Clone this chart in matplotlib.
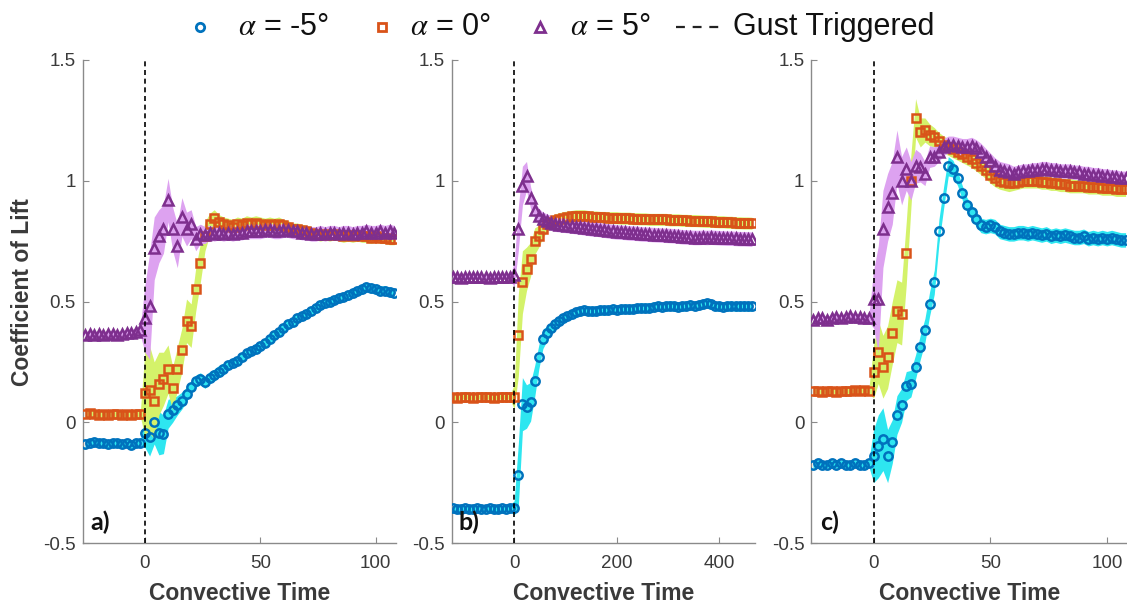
import numpy as np
import matplotlib
matplotlib.use("Agg")
import matplotlib.pyplot as plt
from matplotlib.lines import Line2D
from matplotlib.ticker import FixedLocator, FuncFormatter

plt.rcParams["font.family"] = ["Liberation Sans", "DejaVu Sans"]
plt.rcParams["mathtext.fontset"] = "stix"
plt.rcParams["axes.unicode_minus"] = False

# ---------------- time grids (convective time) ----------------
TIME_AC = np.arange(-26, 109, 2)      # panels a) and c)
TIME_B = np.arange(-120, 465, 8)      # panel b)

# ---------------- panel a) ----------------
cl_a_m5 = ([-0.09, -0.085, -0.08, -0.085, -0.085, -0.09, -0.085, -0.085, -0.09, -0.085, -0.095, -0.085, -0.085]
           + [-0.045, -0.06, 0.0, -0.045, -0.05, 0.035, 0.05, 0.07, 0.09, 0.115,
              0.145, 0.17, 0.18, 0.165, 0.185, 0.195, 0.21, 0.22, 0.235, 0.245,
              0.255, 0.27, 0.285, 0.295, 0.305, 0.315, 0.33, 0.345, 0.36, 0.375,
              0.39, 0.405, 0.415, 0.43, 0.44, 0.45, 0.46, 0.475, 0.485, 0.495,
              0.5, 0.505, 0.515, 0.52, 0.525, 0.535, 0.545, 0.55, 0.56, 0.555,
              0.55, 0.545, 0.545, 0.54, 0.535])
err_a_m5 = ([0.015, 0.015, 0.015, 0.015, 0.015, 0.015, 0.015, 0.015, 0.015, 0.015, 0.015, 0.015, 0.015]
            + [0.06, 0.08, 0.09, 0.09, 0.08, 0.06, 0.05, 0.04, 0.035, 0.03,
               0.025, 0.025, 0.025, 0.025, 0.025, 0.025, 0.025, 0.025, 0.02, 0.02,
               0.02, 0.02, 0.02, 0.02, 0.02, 0.02, 0.02, 0.02, 0.02, 0.02,
               0.02, 0.02, 0.02, 0.02, 0.02, 0.02, 0.02, 0.02, 0.02, 0.02,
               0.02, 0.02, 0.02, 0.02, 0.02, 0.02, 0.02, 0.02, 0.02, 0.02,
               0.02, 0.02, 0.02, 0.02, 0.02])
cl_a_0 = ([0.035, 0.04, 0.035, 0.03, 0.035, 0.03, 0.035, 0.035, 0.03, 0.035, 0.03, 0.035, 0.035]
          + [0.12, 0.135, 0.09, 0.16, 0.18, 0.22, 0.14, 0.22, 0.30, 0.42,
             0.40, 0.55, 0.66, 0.77, 0.82, 0.845, 0.83, 0.82, 0.815, 0.81,
             0.82, 0.815, 0.825, 0.82, 0.825, 0.82, 0.815, 0.82, 0.815, 0.82,
             0.815, 0.81, 0.80, 0.80, 0.795, 0.79, 0.785, 0.78, 0.775, 0.78,
             0.775, 0.78, 0.775, 0.77, 0.775, 0.77, 0.775, 0.77, 0.77, 0.765,
             0.77, 0.765, 0.765, 0.76, 0.76])
err_a_0 = ([0.012, 0.012, 0.012, 0.012, 0.012, 0.012, 0.012, 0.012, 0.012, 0.012, 0.012, 0.012, 0.012]
           + [0.18, 0.18, 0.16, 0.13, 0.11, 0.10, 0.09, 0.09, 0.09, 0.09,
              0.09, 0.09, 0.08, 0.06, 0.045, 0.035, 0.03, 0.03, 0.03, 0.03,
              0.03, 0.03, 0.03, 0.03, 0.03, 0.03, 0.03, 0.03, 0.03, 0.03,
              0.025, 0.025, 0.025, 0.025, 0.025, 0.025, 0.025, 0.025, 0.025, 0.025,
              0.025, 0.025, 0.025, 0.025, 0.025, 0.025, 0.025, 0.025, 0.025, 0.025,
              0.025, 0.025, 0.025, 0.025, 0.025])
cl_a_p5 = ([0.36, 0.365, 0.36, 0.365, 0.36, 0.365, 0.365, 0.36, 0.365, 0.37, 0.37, 0.375, 0.38]
           + [0.43, 0.48, 0.72, 0.77, 0.80, 0.92, 0.80, 0.73, 0.85, 0.80,
              0.82, 0.76, 0.78, 0.775, 0.785, 0.78, 0.785, 0.78, 0.785, 0.78,
              0.785, 0.785, 0.79, 0.79, 0.79, 0.79, 0.795, 0.795, 0.79, 0.79,
              0.795, 0.795, 0.79, 0.79, 0.785, 0.785, 0.78, 0.78, 0.785, 0.78,
              0.785, 0.785, 0.78, 0.785, 0.785, 0.78, 0.785, 0.785, 0.79, 0.785,
              0.785, 0.79, 0.785, 0.79, 0.785])
err_a_p5 = ([0.015, 0.015, 0.015, 0.015, 0.015, 0.015, 0.015, 0.015, 0.015, 0.015, 0.015, 0.015, 0.02]
            + [0.14, 0.22, 0.13, 0.11, 0.10, 0.09, 0.09, 0.09, 0.08, 0.07,
               0.06, 0.05, 0.04, 0.035, 0.03, 0.03, 0.03, 0.03, 0.03, 0.03,
               0.03, 0.03, 0.03, 0.03, 0.03, 0.03, 0.03, 0.03, 0.03, 0.03,
               0.03, 0.03, 0.03, 0.03, 0.03, 0.03, 0.03, 0.03, 0.03, 0.03,
               0.03, 0.03, 0.03, 0.03, 0.03, 0.03, 0.03, 0.03, 0.03, 0.03,
               0.03, 0.03, 0.03, 0.03, 0.03])

# ---------------- panel b) ----------------
cl_b_m5 = ([-0.355, -0.36, -0.36, -0.355, -0.36, -0.36, -0.355, -0.36, -0.36, -0.355, -0.36, -0.36, -0.355, -0.36, -0.355]
           + [-0.355, -0.22, 0.075, 0.065, 0.085, 0.17, 0.27, 0.345, 0.368, 0.39,
              0.405, 0.418, 0.43, 0.44, 0.448, 0.455, 0.46, 0.463, 0.462, 0.46,
              0.462, 0.465, 0.463, 0.465, 0.468, 0.465, 0.468, 0.47, 0.468, 0.47,
              0.472, 0.475, 0.473, 0.475, 0.478, 0.48, 0.478, 0.48, 0.483, 0.48,
              0.478, 0.48, 0.483, 0.485, 0.483, 0.485, 0.49, 0.492, 0.488, 0.482,
              0.48, 0.478, 0.48, 0.482, 0.48, 0.48, 0.482, 0.48, 0.48])
err_b_m5 = ([0.012, 0.012, 0.012, 0.012, 0.012, 0.012, 0.012, 0.012, 0.012, 0.012, 0.012, 0.012, 0.012, 0.012, 0.012]
            + [0.03, 0.13, 0.11, 0.09, 0.08, 0.065, 0.05, 0.04, 0.03, 0.025,
               0.02, 0.02, 0.02, 0.02, 0.02, 0.02, 0.02, 0.02, 0.02, 0.02,
               0.02, 0.02, 0.02, 0.02, 0.02, 0.02, 0.02, 0.02, 0.02, 0.02,
               0.02, 0.02, 0.02, 0.02, 0.02, 0.02, 0.02, 0.02, 0.02, 0.02,
               0.02, 0.02, 0.02, 0.02, 0.02, 0.02, 0.02, 0.02, 0.02, 0.02,
               0.02, 0.02, 0.02, 0.02, 0.02, 0.02, 0.02, 0.02, 0.02])
cl_b_0 = ([0.105, 0.1, 0.105, 0.105, 0.105, 0.1, 0.105, 0.105, 0.105, 0.105, 0.1, 0.105, 0.105, 0.105, 0.105]
          + [0.105, 0.36, 0.58, 0.635, 0.675, 0.75, 0.77, 0.80, 0.82, 0.83,
             0.838, 0.843, 0.847, 0.85, 0.852, 0.855, 0.855, 0.855, 0.852, 0.85,
             0.85, 0.848, 0.848, 0.847, 0.847, 0.847, 0.845, 0.845, 0.845, 0.843,
             0.843, 0.842, 0.842, 0.84, 0.84, 0.84, 0.84, 0.84, 0.838, 0.838,
             0.838, 0.836, 0.836, 0.835, 0.835, 0.834, 0.833, 0.832, 0.832, 0.831,
             0.83, 0.83, 0.828, 0.828, 0.826, 0.826, 0.825, 0.825, 0.824])
err_b_0 = ([0.01, 0.01, 0.01, 0.01, 0.01, 0.01, 0.01, 0.01, 0.01, 0.01, 0.01, 0.01, 0.01, 0.01, 0.01]
           + [0.05, 0.17, 0.13, 0.09, 0.07, 0.055, 0.045, 0.035, 0.03, 0.025,
              0.025, 0.025, 0.025, 0.025, 0.025, 0.025, 0.025, 0.025, 0.025, 0.025,
              0.025, 0.025, 0.025, 0.025, 0.025, 0.025, 0.025, 0.025, 0.025, 0.025,
              0.025, 0.025, 0.025, 0.025, 0.025, 0.025, 0.025, 0.025, 0.025, 0.025,
              0.025, 0.025, 0.025, 0.025, 0.025, 0.025, 0.025, 0.025, 0.025, 0.025,
              0.025, 0.025, 0.025, 0.025, 0.025, 0.025, 0.025, 0.025, 0.025])
cl_b_p5 = ([0.6, 0.6, 0.598, 0.6, 0.6, 0.602, 0.6, 0.6, 0.6, 0.598, 0.6, 0.6, 0.602, 0.6, 0.6]
           + [0.61, 0.80, 0.98, 1.02, 0.93, 0.88, 0.855, 0.84, 0.833, 0.825,
              0.82, 0.818, 0.816, 0.814, 0.812, 0.81, 0.808, 0.805, 0.803, 0.80,
              0.80, 0.797, 0.795, 0.792, 0.79, 0.788, 0.787, 0.786, 0.784, 0.783,
              0.782, 0.78, 0.779, 0.778, 0.777, 0.776, 0.775, 0.774, 0.773, 0.772,
              0.77, 0.768, 0.767, 0.766, 0.765, 0.765, 0.766, 0.765, 0.766, 0.765,
              0.764, 0.763, 0.762, 0.762, 0.761, 0.76, 0.76, 0.759, 0.758])
err_b_p5 = ([0.01, 0.01, 0.01, 0.01, 0.01, 0.01, 0.01, 0.01, 0.01, 0.01, 0.01, 0.01, 0.01, 0.01, 0.01]
            + [0.05, 0.09, 0.08, 0.06, 0.045, 0.035, 0.03, 0.03, 0.03, 0.03,
               0.03, 0.03, 0.03, 0.03, 0.03, 0.03, 0.03, 0.03, 0.03, 0.03,
               0.03, 0.03, 0.03, 0.03, 0.03, 0.03, 0.03, 0.03, 0.03, 0.03,
               0.03, 0.03, 0.03, 0.03, 0.03, 0.03, 0.03, 0.03, 0.03, 0.03,
               0.03, 0.03, 0.03, 0.03, 0.03, 0.03, 0.03, 0.03, 0.03, 0.03,
               0.03, 0.03, 0.03, 0.03, 0.03, 0.03, 0.03, 0.03, 0.03])

# ---------------- panel c) ----------------
cl_c_m5 = ([-0.175, -0.17, -0.175, -0.175, -0.17, -0.175, -0.17, -0.175, -0.175, -0.17, -0.175, -0.175, -0.17]
           + [-0.14, -0.10, -0.07, -0.14, -0.08, 0.03, 0.07, 0.15, 0.16, 0.23,
              0.31, 0.38, 0.49, 0.58, 0.79, 0.93, 1.06, 1.05, 1.01, 0.95,
              0.90, 0.87, 0.84, 0.815, 0.81, 0.815, 0.81, 0.79, 0.785, 0.78,
              0.78, 0.785, 0.785, 0.78, 0.785, 0.78, 0.775, 0.78, 0.77, 0.775,
              0.77, 0.775, 0.77, 0.765, 0.765, 0.77, 0.76, 0.765, 0.76, 0.765,
              0.76, 0.765, 0.76, 0.755, 0.755])
err_c_m5 = ([0.015, 0.015, 0.015, 0.015, 0.015, 0.015, 0.015, 0.015, 0.015, 0.015, 0.015, 0.015, 0.015]
            + [0.11, 0.13, 0.13, 0.11, 0.09, 0.08, 0.07, 0.06, 0.055, 0.05,
               0.05, 0.05, 0.05, 0.05, 0.05, 0.045, 0.04, 0.035, 0.03, 0.03,
               0.03, 0.03, 0.03, 0.03, 0.03, 0.03, 0.03, 0.03, 0.03, 0.03,
               0.03, 0.03, 0.03, 0.03, 0.03, 0.03, 0.03, 0.03, 0.03, 0.03,
               0.03, 0.03, 0.03, 0.03, 0.03, 0.03, 0.03, 0.03, 0.03, 0.03,
               0.03, 0.03, 0.03, 0.03, 0.03])
cl_c_0 = ([0.13, 0.13, 0.125, 0.13, 0.13, 0.125, 0.13, 0.13, 0.13, 0.135, 0.13, 0.135, 0.13]
          + [0.21, 0.29, 0.23, 0.27, 0.37, 0.46, 0.45, 0.70, 1.00, 1.26,
             1.20, 1.21, 1.19, 1.18, 1.165, 1.15, 1.14, 1.13, 1.12, 1.11,
             1.10, 1.09, 1.075, 1.06, 1.045, 1.025, 1.01, 1.00, 0.995, 0.99,
             0.99, 0.995, 1.00, 1.00, 1.00, 1.00, 0.995, 0.995, 0.99, 0.99,
             0.985, 0.985, 0.98, 0.98, 0.98, 0.98, 0.975, 0.975, 0.975, 0.97,
             0.97, 0.97, 0.965, 0.965, 0.965])
err_c_0 = ([0.012, 0.012, 0.012, 0.012, 0.012, 0.012, 0.012, 0.012, 0.012, 0.012, 0.012, 0.012, 0.012]
           + [0.11, 0.13, 0.13, 0.13, 0.13, 0.13, 0.13, 0.13, 0.11, 0.08,
              0.06, 0.05, 0.045, 0.04, 0.035, 0.035, 0.035, 0.035, 0.035, 0.035,
              0.035, 0.035, 0.035, 0.035, 0.035, 0.035, 0.035, 0.035, 0.035, 0.035,
              0.03, 0.03, 0.03, 0.03, 0.03, 0.03, 0.03, 0.03, 0.03, 0.03,
              0.03, 0.03, 0.03, 0.03, 0.03, 0.03, 0.03, 0.03, 0.03, 0.03,
              0.03, 0.03, 0.03, 0.03, 0.03])
cl_c_p5 = ([0.425, 0.43, 0.43, 0.425, 0.43, 0.435, 0.43, 0.435, 0.44, 0.435, 0.435, 0.43, 0.43]
           + [0.51, 0.51, 0.80, 0.89, 0.95, 1.10, 1.00, 1.05, 1.00, 1.06,
              1.055, 1.03, 1.10, 1.10, 1.12, 1.14, 1.15, 1.15, 1.145, 1.14,
              1.14, 1.145, 1.135, 1.12, 1.10, 1.08, 1.06, 1.045, 1.04, 1.035,
              1.03, 1.035, 1.04, 1.04, 1.045, 1.045, 1.05, 1.05, 1.045, 1.045,
              1.04, 1.04, 1.04, 1.035, 1.035, 1.03, 1.03, 1.025, 1.025, 1.02,
              1.02, 1.015, 1.015, 1.01, 1.01])
err_c_p5 = ([0.015, 0.015, 0.015, 0.015, 0.015, 0.015, 0.015, 0.015, 0.015, 0.015, 0.015, 0.015, 0.015]
            + [0.12, 0.22, 0.16, 0.14, 0.13, 0.11, 0.10, 0.09, 0.08, 0.07,
               0.06, 0.05, 0.045, 0.04, 0.04, 0.035, 0.035, 0.035, 0.035, 0.035,
               0.035, 0.035, 0.035, 0.035, 0.035, 0.035, 0.035, 0.035, 0.035, 0.035,
               0.03, 0.03, 0.03, 0.03, 0.03, 0.03, 0.03, 0.03, 0.03, 0.03,
               0.03, 0.03, 0.03, 0.03, 0.03, 0.03, 0.03, 0.03, 0.03, 0.03,
               0.03, 0.03, 0.03, 0.03, 0.03])

SERIES_LABELS = [r"$\alpha$ = -5°", r"$\alpha$ = 0°", r"$\alpha$ = 5°"]
PANEL_LABELS = ["a)", "b)", "c)"]
X_TICKS = [[0, 50, 100], [0, 200, 400], [0, 50, 100]]
Y_TICKS = [-0.5, 0, 0.5, 1, 1.5]

# ---------------- styling ----------------
MARK_COLORS = ["#0072BD", "#D95319", "#7E2F8E"]
BAND_COLORS = ["#2EE6F0", "#D4F26A", "#DDA2F0"]
MARKERS = [dict(marker="o", ms=6.0), dict(marker="s", ms=5.2), dict(marker="^", ms=7.0)]
AXIS_GREY = "#8a8a8a"
TEXT_GREY = "#3a3a3a"

panels = [
    (TIME_AC, [(cl_a_m5, err_a_m5), (cl_a_0, err_a_0), (cl_a_p5, err_a_p5)], (-27, 108.8)),
    (TIME_B, [(cl_b_m5, err_b_m5), (cl_b_0, err_b_0), (cl_b_p5, err_b_p5)], (-122, 470)),
    (TIME_AC, [(cl_c_m5, err_c_m5), (cl_c_0, err_c_0), (cl_c_p5, err_c_p5)], (-26.7, 108.6)),
]
label_x = [-23.5, -108, -23]

W, H = 1127, 603
fig = plt.figure(figsize=(W / 100, H / 100), dpi=100)
ax_rects = [
    [82.7 / W, 60 / H, (396 - 82.7) / W, 483 / H],
    [451.7 / W, 60 / H, (755 - 451.7) / W, 483 / H],
    [811.3 / W, 60 / H, (1127 - 811.3) / W, 483 / H],
]

for k, (t, series, xlim) in enumerate(panels):
    ax = fig.add_axes(ax_rects[k])
    t = np.asarray(t, dtype=float)
    for (vals, errs), bc in zip(series, BAND_COLORS):
        v = np.asarray(vals)
        e = np.asarray(errs)
        ax.fill_between(t, v - e, v + e, color=bc, lw=0, zorder=1)
    for (vals, errs), mc, mk in zip(series, MARK_COLORS, MARKERS):
        ax.plot(t, vals, ls="none", mfc="none", mec=mc, mew=1.8, zorder=3, **mk)
    ax.axvline(0, color="k", ls=(0, (3, 2.2)), lw=1.2, zorder=4)
    ax.set_xlim(*xlim)
    ax.set_ylim(-0.5, 1.5)
    ax.xaxis.set_major_locator(FixedLocator(X_TICKS[k]))
    ax.yaxis.set_major_locator(FixedLocator(Y_TICKS))
    ax.yaxis.set_major_formatter(FuncFormatter(lambda v, p: f"{v:g}"))
    for s in ("top", "right"):
        ax.spines[s].set_visible(False)
    for s in ("left", "bottom"):
        ax.spines[s].set_color(AXIS_GREY)
        ax.spines[s].set_linewidth(1.0)
    ax.tick_params(direction="in", length=4, width=0.8, color=AXIS_GREY,
                   labelsize=13.5, labelcolor=TEXT_GREY)
    ax.tick_params(axis="x", pad=9)
    ax.tick_params(axis="y", pad=5)
    ax.set_xlabel("Convective Time", fontsize=16.5, fontweight="bold",
                  color=TEXT_GREY, labelpad=7)
    if k == 0:
        ax.set_ylabel("Coefficient of Lift", fontsize=16.5, fontweight="bold",
                      color=TEXT_GREY, labelpad=8)
        ax.yaxis.set_label_coords(-0.155, 0.52)
    ax.text(label_x[k], -0.445, PANEL_LABELS[k], fontsize=18, fontweight="bold",
            family=["Lato", "DejaVu Sans"], color="#111111", va="baseline", zorder=5)

# ---------------- legend row ----------------
ly = 1 - 27 / H
for xm, xt, mc, mk, lab in zip([200, 382, 540], [238, 410, 570], MARK_COLORS, MARKERS, SERIES_LABELS):
    fig.add_artist(Line2D([xm / W], [ly], ls="none", mfc="none", mec=mc, mew=2.0,
                          transform=fig.transFigure, **mk))
    fig.text(xt / W, ly, lab, fontsize=22, color="#111111", va="center", ha="left")
fig.add_artist(Line2D([676 / W, 724 / W], [ly, ly], color="#222222", ls=(0, (4, 3.5)), lw=1.6,
                      transform=fig.transFigure))
fig.text(733 / W, ly, "Gust Triggered", fontsize=22, color="#111111", va="center", ha="left")

fig.savefig("out.png", dpi=100)
